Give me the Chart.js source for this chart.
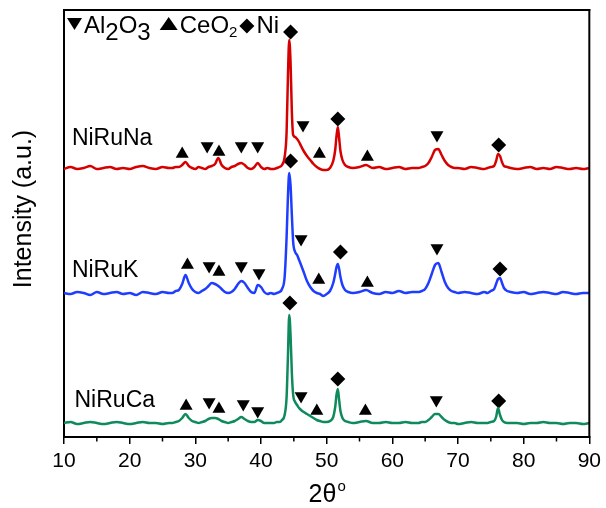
<!doctype html>
<html lang="en">
  <head>
    <meta charset="utf-8">
    <title>XRD</title>
    <style>
      * { margin: 0; padding: 0; }
      body { background: #fff; }
      #xrd { display: block; }
    </style>
  </head>
  <body>
    <canvas id="xrd" width="606" height="508"></canvas>
    <script src="https://cdn.jsdelivr.net/npm/chart.js"></script>
    <script>
    // 2theta grid (deg), denser around the peaks
    const twoTheta = [
      10, 11, 12, 13, 14, 15, 16, 17, 18, 19, 20, 21, 22, 23, 24, 25, 26,
      26.5, 27, 27.5, 28, 28.5, 29, 29.5, 30, 30.5, 31, 31.5, 32, 32.5, 33, 33.5, 34,
      34.5, 35, 35.5, 36, 36.5, 37, 37.5, 38, 38.5, 39, 39.5, 40, 40.5, 41, 41.5, 42,
      42.4, 42.8, 43.2, 43.6, 43.9, 44.1, 44.3, 44.5, 44.7, 44.9, 45.2, 45.5, 45.8, 46.1, 46.5,
      47, 47.5, 48, 48.5, 49, 49.5, 50, 50.5, 51,
      51.3, 51.5, 51.7, 51.9, 52.1, 52.4, 52.8, 53.3,
      54, 55, 56, 57, 58, 59, 60, 61, 62, 63, 64,
      64.5, 65, 65.5, 66, 66.5, 67, 67.5, 68, 68.5, 69, 69.5,
      70, 71, 72, 73, 74, 74.5, 75, 75.5,
      75.8, 76.1, 76.4, 76.7, 77, 77.5, 78,
      79, 80, 81, 82, 83, 84, 85, 86, 87, 88, 89, 90
    ];

    // intensities (a.u., already stacked)
    const niRuNa = [
      268, 270, 268, 269, 271, 268, 269, 270, 268, 269, 268, 270, 271, 269, 268, 270, 269,
      269, 270, 270, 272, 275, 271, 269, 268, 270, 269, 268, 270, 271, 273, 279, 272,
      269, 268, 270, 271, 273, 274, 272, 269, 268, 270, 274, 270, 268, 269, 268, 268,
      269, 270, 272, 280, 305, 360, 397, 375, 325, 302, 300, 298, 295, 291, 286,
      281, 277, 273, 270, 268, 267, 267, 269, 276,
      287, 301, 310, 299, 286, 277, 272, 270,
      269, 270, 272, 269, 270, 268, 269, 270, 268, 269, 269,
      270, 271, 274, 280, 287, 288, 282, 276, 272, 270, 269,
      269, 268, 270, 269, 268, 269, 270, 271,
      276, 283, 281, 275, 271, 270, 269,
      268, 269, 270, 268, 269, 268, 270, 269, 268, 269, 268, 269
    ];
    const niRuK = [
      144, 143, 145, 144, 142, 145, 143, 144, 145, 143, 144, 142, 145, 144, 143, 145, 144,
      144, 146, 147, 153, 162, 154, 148, 145, 144, 146, 148, 151, 154, 153, 151, 148,
      145, 144, 145, 148, 153, 156, 154, 149, 145, 144, 152, 150, 145, 143, 144, 143,
      144, 145, 148, 160, 200, 240, 264, 252, 222, 195, 185, 182, 177, 172, 165,
      156, 150, 146, 144, 143, 141, 143, 146, 154,
      163, 170, 173, 168, 160, 152, 147, 145,
      144, 145, 147, 144, 143, 145, 144, 146, 144, 145, 145,
      146, 148, 154, 163, 172, 174, 165, 155, 149, 146, 145,
      144, 145, 144, 143, 145, 144, 146, 148,
      153, 158, 159, 154, 149, 146, 145,
      144, 145, 143, 144, 145, 144, 143, 145, 144, 143, 144, 144
    ];
    const niRuCa = [
      14, 15, 13, 14, 15, 14, 13, 14, 15, 14, 13, 14, 15, 14, 14, 13, 14,
      14, 15, 16, 19, 23, 19, 16, 15, 14, 15, 16, 18, 19, 19, 18, 16,
      15, 14, 15, 16, 18, 20, 18, 16, 15, 15, 17, 16, 14, 14, 14, 14,
      15, 15, 17, 22, 40, 80, 122, 102, 64, 42, 35, 32, 29, 27, 25,
      23, 21, 19, 17, 16, 15, 15, 16, 20,
      30, 42, 48, 37, 26, 19, 16, 15,
      14, 15, 16, 14, 14, 15, 14, 14, 15, 14, 14,
      15, 15, 17, 20, 23, 23, 20, 17, 15, 14, 14,
      13, 14, 15, 14, 14, 14, 15, 16,
      20, 29, 22, 17, 15, 14, 14,
      14, 13, 14, 14, 15, 14, 14, 13, 14, 14, 13, 14
    ];

    // phase markers [2theta, intensity]
    const al2o3Marks = [
      [31.8, 291], [37.0, 291], [39.5, 291], [46.4, 312], [66.8, 302],
      [32.1, 171], [37.0, 171], [39.7, 164], [46.1, 198], [66.8, 189],
      [32.1, 35], [37.3, 33], [39.5, 26], [46.1, 41], [66.7, 37]
    ];
    const ceo2Marks = [
      [28.0, 283], [33.6, 285], [48.9, 283], [56.2, 280],
      [28.8, 172], [33.6, 165], [48.8, 157], [56.2, 154],
      [28.6, 31], [33.6, 28], [48.5, 26], [55.9, 26]
    ];
    const niMarks = [
      [44.5, 405], [51.7, 318], [76.2, 292],
      [44.5, 276], [52.1, 185], [76.4, 168],
      [44.4, 134], [51.7, 58], [76.2, 36]
    ];

    const sampleNames = ['NiRuNa', 'NiRuK', 'NiRuCa'];
    const sampleLabelPos = [[11.2, 292], [11.2, 160], [11.6, 30]];
    const xTicks = [10, 20, 30, 40, 50, 60, 70, 80, 90];
    const xMinorTicks = [15, 25, 35, 45, 55, 65, 75, 85];

    const FONT = '"Liberation Sans", Arial, sans-serif';
    const toXY = (ys) => twoTheta.map((t, i) => ({x: t, y: ys[i]}));
    const toPts = (arr) => arr.map(p => ({x: p[0], y: p[1]}));

    const lineStyle = (color) => ({
      borderColor: color,
      borderWidth: 2.5,
      pointRadius: 0,
      showLine: true,
      cubicInterpolationMode: 'monotone',
      fill: false
    });
    const markStyle = {
      showLine: false,
      backgroundColor: '#000',
      borderColor: '#000',
      borderWidth: 0,
      clip: false
    };

    // extra drawing: frame, minor ticks, legend text, labels, titles
    const overlay = {
      id: 'overlay',
      afterDraw(chart) {
        const {ctx, scales: {x, y}} = chart;
        const left = x.getPixelForValue(x.min);
        const right = x.getPixelForValue(x.max);
        const top = y.getPixelForValue(y.max);
        const bottom = y.getPixelForValue(y.min);
        ctx.save();
        ctx.fillStyle = '#000';
        // top and right side of the frame, drawn 2px wide
        ctx.fillRect(left - 1, top - 1, right - left + 2, 2);
        ctx.fillRect(right - 1, top - 1, 2, bottom - top + 2);
        xMinorTicks.forEach(v => {
          const px = x.getPixelForValue(v);
          ctx.fillRect(px - 0.75, bottom, 1.5, 4.5);
        });

        // legend line at top
        ctx.textBaseline = 'alphabetic';
        const L = left;
        ctx.beginPath();
        ctx.moveTo(L + 3, 18); ctx.lineTo(L + 18, 18); ctx.lineTo(L + 10.5, 30); ctx.closePath();
        ctx.fill();
        let cx = L + 20;
        const big = '24px ' + FONT;
        ctx.font = big;
        ctx.fillText('Al', cx, 33); cx += ctx.measureText('Al').width;
        ctx.fillText('2', cx, 40); cx += ctx.measureText('2').width;
        ctx.fillText('O', cx, 33); cx += ctx.measureText('O').width;
        ctx.fillText('3', cx, 40); cx += ctx.measureText('3').width + 9;
        ctx.beginPath();
        ctx.moveTo(cx, 30); ctx.lineTo(cx + 18, 30); ctx.lineTo(cx + 9, 17); ctx.closePath();
        ctx.fill();
        cx += 20;
        ctx.fillText('CeO', cx, 33); cx += ctx.measureText('CeO').width;
        ctx.font = '15px ' + FONT;
        ctx.fillText('2', cx, 37); cx += ctx.measureText('2').width + 2;
        ctx.beginPath();
        ctx.moveTo(cx + 7.5, 18.5); ctx.lineTo(cx + 15, 26); ctx.lineTo(cx + 7.5, 33.5); ctx.lineTo(cx, 26); ctx.closePath();
        ctx.fill();
        cx += 17;
        ctx.font = big;
        ctx.fillText('Ni', cx, 33);

        // sample names
        ctx.font = '23px ' + FONT;
        sampleNames.forEach((n, i) => {
          const p = sampleLabelPos[i];
          ctx.fillText(n, x.getPixelForValue(p[0]), y.getPixelForValue(p[1]));
        });

        // x title 2θ with superscript o
        ctx.font = '25px ' + FONT;
        const w1 = ctx.measureText('2θ').width;
        ctx.font = '15px ' + FONT;
        const w2 = ctx.measureText('o').width;
        const tx = (left + right) / 2 - (w1 + w2) / 2;
        ctx.font = '25px ' + FONT;
        ctx.fillText('2θ', tx, 502);
        ctx.font = '15px ' + FONT;
        ctx.fillText('o', tx + w1 + 1, 491);

        // y title
        ctx.translate(31, 209);
        ctx.rotate(-Math.PI / 2);
        ctx.font = '25px ' + FONT;
        ctx.textAlign = 'center';
        ctx.fillText('Intensity (a.u.)', 0, 0);
        ctx.restore();
      }
    };

    const config = {
      type: 'scatter',
      data: {
        datasets: [
          Object.assign({label: sampleNames[0], data: toXY(niRuNa)}, lineStyle('#d60000')),
          Object.assign({label: sampleNames[1], data: toXY(niRuK)}, lineStyle('#1f3dff')),
          Object.assign({label: sampleNames[2], data: toXY(niRuCa)}, lineStyle('#0f8a5c')),
          Object.assign({label: 'Al2O3', data: toPts(al2o3Marks), pointStyle: 'triangle', rotation: 180, pointRadius: 7.5}, markStyle),
          Object.assign({label: 'CeO2', data: toPts(ceo2Marks), pointStyle: 'triangle', pointRadius: 7.5}, markStyle),
          Object.assign({label: 'Ni', data: toPts(niMarks), pointStyle: 'rectRot', pointRadius: 7.5}, markStyle)
        ]
      },
      options: {
        responsive: false,
        animation: false,
        layout: {padding: {top: 10, right: 14, left: 0, bottom: 0}},
        plugins: {legend: {display: false}, tooltip: {enabled: false}},
        scales: {
          x: {
            type: 'linear',
            min: 10,
            max: 90,
            afterFit: s => { s.height = 71; },
            afterBuildTicks: s => { s.ticks = xTicks.map(v => ({value: v})); },
            border: {display: true, color: '#000', width: 2},
            grid: {display: true, drawOnChartArea: false, drawTicks: true, tickLength: 7, color: '#000', lineWidth: 1.5},
            ticks: {color: '#000', padding: 5, maxRotation: 0, font: {family: FONT, size: 21}}
          },
          y: {
            min: 0,
            max: 427,
            afterFit: s => { s.width = 64; },
            border: {display: true, color: '#000', width: 2},
            grid: {display: false},
            ticks: {display: false}
          }
        }
      },
      plugins: [overlay]
    };

    const xrdChart = new Chart(document.getElementById('xrd'), config);
    </script>
  </body>
</html>
